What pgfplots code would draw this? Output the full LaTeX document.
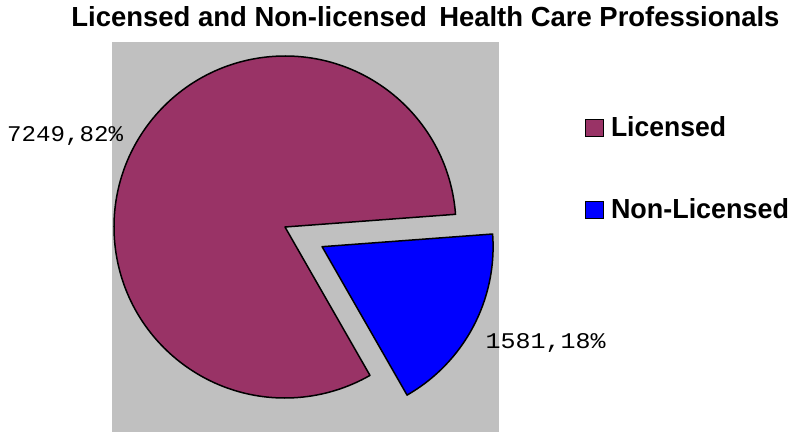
\documentclass[border=0pt]{standalone}
\usepackage{fontspec}
\setmainfont{Liberation Sans}
\setmonofont{Liberation Mono}
\usepackage{pgfplots}
\usepackage{pgfplotstable}
\pgfplotsset{compat=1.18}
\definecolor{lic}{HTML}{993366}
\definecolor{nonlic}{HTML}{0000FF}
\definecolor{bggrey}{HTML}{C0C0C0}

\pgfplotstableread{
label value pct
Licensed 7249 82
Non-Licensed 1581 18
}\piedata

\pgfplotstablegetelem{0}{value}\of\piedata \edef\vA{\pgfplotsretval}
\pgfplotstablegetelem{1}{value}\of\piedata \edef\vB{\pgfplotsretval}
\pgfplotstablegetelem{0}{pct}\of\piedata \edef\pA{\pgfplotsretval}
\pgfplotstablegetelem{1}{pct}\of\piedata \edef\pB{\pgfplotsretval}
\pgfmathsetmacro\fracB{\vB/(\vA+\vB)}
\pgfmathsetmacro\angB{360*\fracB}
\pgfmathsetmacro\bStart{-60.2}
\pgfmathsetmacro\bEnd{\bStart+\angB}
\pgfmathsetmacro\aEnd{\bStart+360}
\pgfmathsetmacro\bMid{(\bStart+\bEnd)/2}
\pgfmathsetmacro\aMid{(\bEnd+\aEnd)/2}

\begin{document}
\begin{tikzpicture}
\begin{axis}[
  x=1bp, y=1bp, xmin=0, xmax=795, ymin=0, ymax=432,
  hide axis, clip=false,
  title={\resizebox{708bp}{20bp}{\bfseries Licensed and Non-licensed\hspace{0.45em}Health Care Professionals}},
  title style={at={(axis description cs:0.5352,0.9259)}, anchor=base, inner sep=0pt},
  legend style={at={(axis cs:585,316)}, anchor=north west, draw=none, fill=none,
    inner sep=0pt, outer sep=0pt, row sep=61bp, nodes={inner sep=0pt},
    /tikz/every odd column/.append style={column sep=7bp}},
  legend cell align=left,
  legend image code/.code={\draw[#1, line width=1bp] (0bp,-9.5bp) rectangle (18bp,7.5bp);},
]
\fill[bggrey] (axis cs:112,0) rectangle (axis cs:499,390);
% Licensed slice
\filldraw[fill=lic, draw=black, line width=1.5bp, line join=round]
  (axis cs:285,205) -- ++(\bEnd:171bp) arc[start angle=\bEnd, end angle=\aEnd, radius=171bp] -- cycle;
% Non-Licensed slice (exploded)
\filldraw[fill=nonlic, draw=black, line width=1.5bp, line join=round]
  ([shift={(\bMid:42bp)}]axis cs:285,205) -- ++(\bStart:171bp) arc[start angle=\bStart, end angle=\bEnd, radius=171bp] -- cycle;
% data labels
\node[anchor=base east, inner sep=0pt] at ([shift={(\aMid:183bp)}]axis cs:285,205)
  {\resizebox{116bp}{15bp}{\ttfamily \vA,\pA\%}};
\node[anchor=north west, inner sep=0pt] at ([shift={(\bMid:227bp)}]axis cs:285,205)
  {\resizebox{120bp}{15bp}{\ttfamily \vB,\pB\%}};
\addlegendimage{fill=lic, draw=black}
\addlegendentry{\resizebox{115bp}{20bp}{\bfseries Licensed}}
\addlegendimage{fill=nonlic, draw=black}
\addlegendentry{\resizebox{178bp}{20bp}{\bfseries Non-Licensed}}
\end{axis}
\path[use as bounding box] (0,0) rectangle (795bp,432bp);
\end{tikzpicture}
\end{document}
